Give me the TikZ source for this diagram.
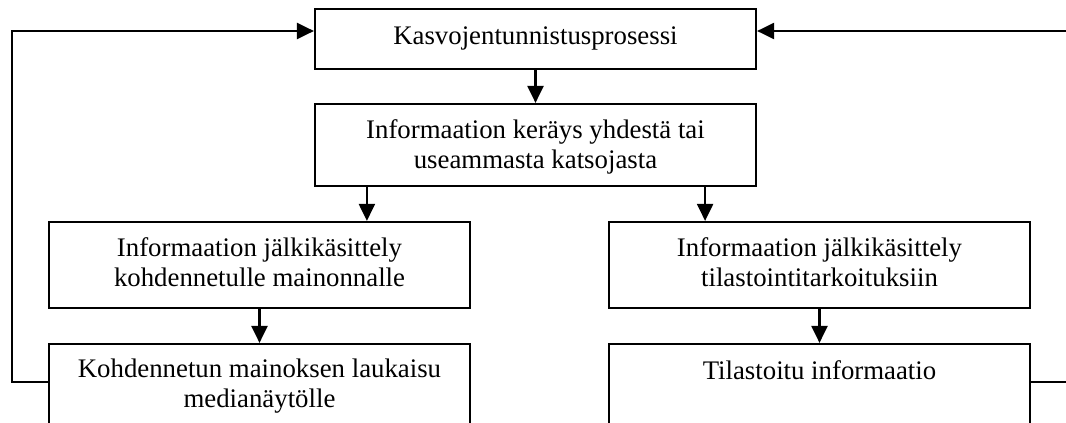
\documentclass[tikz,border=0pt]{standalone}
\usepackage{fontspec}
\setmainfont{Liberation Serif}
\usetikzlibrary{arrows.meta}
\begin{document}
\begin{tikzpicture}[x=0.5pt,y=-0.5pt,
  box/.style={draw, line width=1.1pt, inner sep=0pt, minimum width=#1},
  txt/.style={font=\fontsize{13.4pt}{15pt}\selectfont, align=center, inner sep=0pt, anchor=north},
  arr/.style={line width=1.1pt, -{Triangle[length=8.5pt,width=8pt]}}]
% page area
\useasboundingbox (0,0) rectangle (1066,423);
\clip (0,0) rectangle (1066,423);
\fill[white] (0,0) rectangle (1066,423);

% process boxes
\node[box=220.5pt, minimum height=30pt] (proc) at (535.5,39) {};
\node[box=220.5pt, minimum height=41pt] (collect) at (535.5,145) {};
\node[box=210.5pt, minimum height=43pt] (postAd) at (259.5,265) {};
\node[box=210.5pt, minimum height=43pt] (postStat) at (819.5,265) {};
\node[box=210.5pt, minimum height=50pt] (launch) at (259.5,394) {};
\node[box=210.5pt, minimum height=50pt] (stats) at (819.5,394) {};

% box texts
\node[txt] (procT) at ([yshift=-9pt]proc.north) {Kasvojentunnistusprosessi};
\node[txt] (collectT) at ([yshift=-8pt]collect.north) {Informaation keräys yhdestä tai\\useammasta katsojasta};
\node[txt] (postAdT) at ([yshift=-8pt]postAd.north) {Informaation jälkikäsittely\\kohdennetulle mainonnalle};
\node[txt] (postStatT) at ([yshift=-8pt]postStat.north) {Informaation jälkikäsittely\\tilastointitarkoituksiin};
\node[txt] (launchT) at ([yshift=-8pt]launch.north) {Kohdennetun mainoksen laukaisu\\medianäytölle};
\node[txt] (statsT) at ([yshift=-8.5pt]stats.north) {Tilastoitu informaatio};

% main flow
\draw[arr] (proc) -- (collect);
\coordinate (splitL) at ([xshift=26.5pt]collect.south west);
\coordinate (splitR) at ([xshift=-26pt]collect.south east);
\draw[arr] (splitL) -- (splitL |- postAd.north);
\draw[arr] (splitR) -- (splitR |- postStat.north);
\draw[arr] (postAd) -- (launch);
\draw[arr] (postStat) -- (stats);

% feedback loops
\coordinate (loopL) at (12,382);
\coordinate (loopLt) at (12,31);
\draw[arr] (loopL -| launch.west) -- (loopL) -- (loopLt) -- (loopLt -| proc.west);
\coordinate (loopR) at (1085,382);
\coordinate (loopRt) at (1085,31);
\draw[arr] (loopR -| stats.east) -- (loopR) -- (loopRt) -- (loopRt -| proc.east);
\end{tikzpicture}
\end{document}
